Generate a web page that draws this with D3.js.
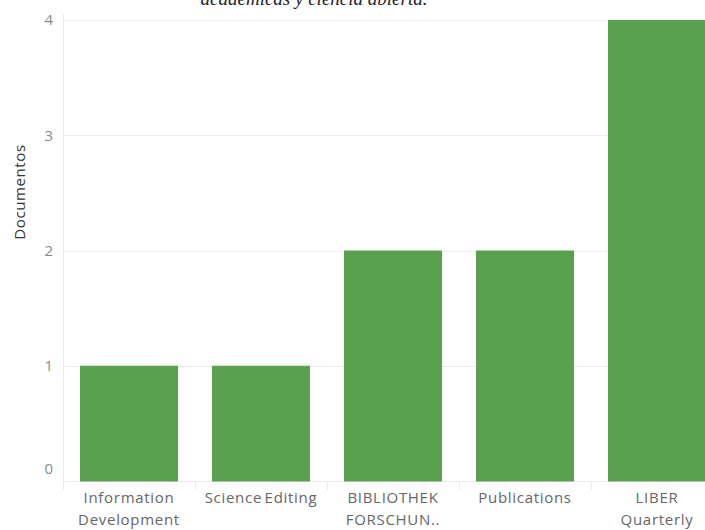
<!DOCTYPE html>
<html><head><meta charset="utf-8">
<script src="https://cdn.jsdelivr.net/npm/d3@7"></script>
<style>body{margin:0;background:#fff;overflow:hidden}svg{display:block}</style>
</head><body>
<svg id="c" width="705" height="530"></svg>
<script>
const categories = [["Information","Development"],["Science Editing"],["BIBLIOTHEK","FORSCHUN.."],["Publications"],["LIBER","Quarterly"]];
const values = [1,1,2,2,4];
const yTicks = [0,1,2,3,4];
const titleText = "académicas y ciencia abierta.";
const yTitle = "Documentos";

const svg = d3.select("#c");
const pLeft = 63, pBottom = 481, pTop = 20, step = 132;
const ids = categories.map((d,i)=>i);
const x = d3.scaleBand().domain(ids).range([pLeft, pLeft + step*ids.length]).paddingInner(34/132).paddingOuter(17/132);
const y = d3.scaleLinear().domain([0,4]).range([pBottom, pTop]);
const font = "'Open Sans', sans-serif";

// title (cropped at top edge as in the reference)
svg.append("text").attr("x",314).attr("y",5).attr("text-anchor","middle")
  .attr("font-family","'Liberation Serif', serif").attr("font-style","italic").attr("font-size",19)
  .attr("fill","#222").text(titleText);

// gridlines
svg.append("g").selectAll("line").data(yTicks).join("line")
  .attr("x1",pLeft).attr("x2",705).attr("y1",d=>Math.round(y(d))+0.5).attr("y2",d=>Math.round(y(d))+0.5)
  .attr("stroke","#ebebeb").attr("stroke-width",1);
// left axis line
svg.append("line").attr("x1",pLeft+0.5).attr("x2",pLeft+0.5).attr("y1",14).attr("y2",490).attr("stroke","#ebebeb");
// category separators
svg.append("g").selectAll("line").data(d3.range(1,ids.length)).join("line")
  .attr("x1",d=>pLeft+step*d+0.5).attr("x2",d=>pLeft+step*d+0.5).attr("y1",pBottom).attr("y2",490).attr("stroke","#ebebeb");

// bars
svg.append("g").selectAll("rect").data(values).join("rect")
  .attr("x",(d,i)=>x(i)).attr("width",x.bandwidth())
  .attr("y",d=>y(d)).attr("height",d=>pBottom-y(d)+0.5)
  .attr("fill","#59A14F");

// y tick labels
svg.append("g").selectAll("text").data(yTicks).join("text")
  .attr("x",53).attr("y",d=> d===0 ? y(d)-12 : y(d)).attr("dy","0.35em").attr("text-anchor","end")
  .attr("font-family",font).attr("font-size",15).attr("fill","#8a8a8a").text(d=>d);

// y title
svg.append("text").attr("transform","translate(25,192) rotate(-90)").attr("text-anchor","middle")
  .attr("font-family",font).attr("font-size",15).attr("letter-spacing",0.6).attr("fill","#333").text(yTitle);

// x labels
const xl = svg.append("g").selectAll("text").data(categories).join("text")
  .attr("x",(d,i)=>x(i)+x.bandwidth()/2).attr("y",503).attr("text-anchor","middle")
  .attr("font-family",font).attr("font-size",15).attr("letter-spacing",0.7).attr("word-spacing",-2).attr("fill","#666");
xl.selectAll("tspan").data(d=>d).join("tspan")
  .attr("x",function(){return this.parentNode.getAttribute("x");})
  .attr("dy",(d,j)=>j===0?0:22).text(d=>d);
</script>
</body></html>
